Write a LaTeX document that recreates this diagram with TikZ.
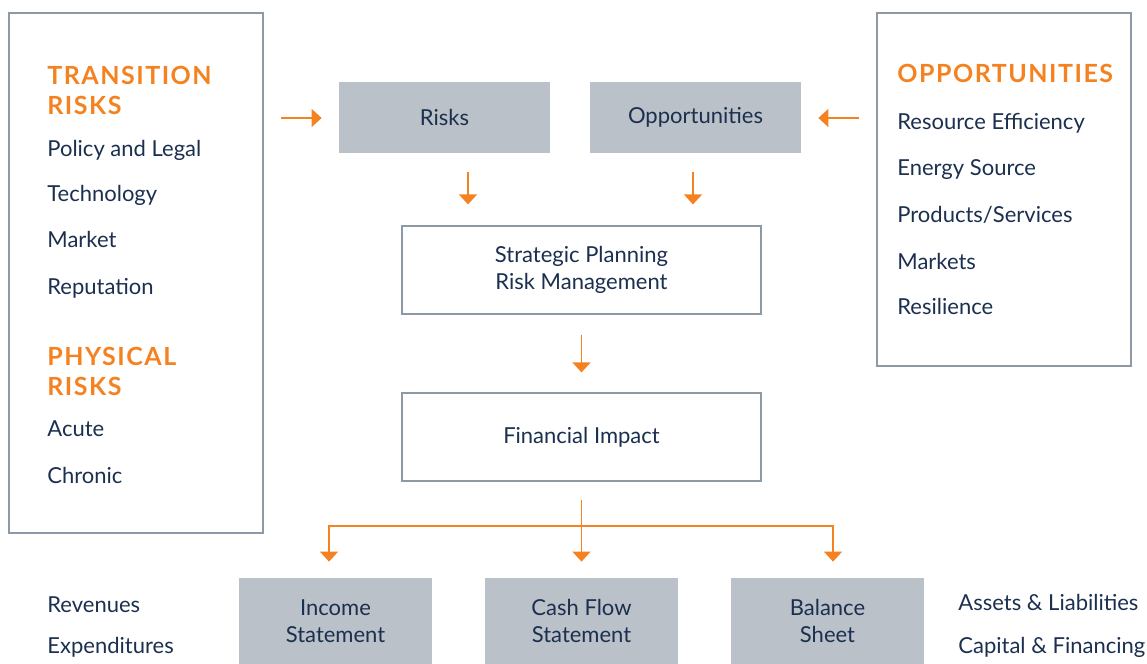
\documentclass[tikz,border=0pt]{standalone}
\usepackage{fontspec}
\setmainfont{Lato}
\newfontfamily\headfont{Lato}[LetterSpace=6]
\usetikzlibrary{arrows.meta,calc}

\definecolor{navy}{HTML}{1B2F4F}
\definecolor{tcfdorange}{HTML}{F58220}
\definecolor{boxgray}{HTML}{BAC1C8}
\definecolor{framegray}{HTML}{8D99A5}

\tikzset{
  graybox/.style={fill=boxgray, draw=none, text=navy, align=center, inner sep=0pt, font=\fontsize{11}{13.5}\selectfont},
  whitebox/.style={draw=framegray, line width=0.6pt, fill=white, text=navy, align=center, inner sep=0pt, font=\fontsize{11}{13.5}\selectfont},
  frame/.style={draw=framegray, line width=0.6pt, inner sep=0pt},
  item/.style={anchor=base west, inner sep=0pt, text=navy, font=\fontsize{11}{13}\selectfont},
  heading/.style={anchor=base west, inner sep=0pt, text=tcfdorange, font=\headfont\bfseries\fontsize{12.5}{15}\selectfont},
  flow/.style={draw=tcfdorange, line width=0.8pt},
  arr/.style={flow, -{Triangle[width=9pt,length=5pt]}}
}

\begin{document}
\begin{tikzpicture}[x=0.5pt, y=-0.5pt]
	%%%%% START %%%%%
	\useasboundingbox (0,0) rectangle (1147,664);

	% side frames
	\node[frame, minimum width=127pt, minimum height=260pt] (riskframe) at (136,273) {};
	\node[frame, minimum width=127pt, minimum height=176.5pt] (oppframe) at (1004,189.5) {};

	% transition and physical risks
	\node[heading] (transhead) at (47,84) {TRANSITION};
	\node[heading] (transhead2) at (47,114) {RISKS};
	\node[item] (policy) at (47,156) {Policy and Legal};
	\node[item] (tech) at (47,201) {Technology};
	\node[item] (market) at (47,247) {Market};
	\node[item] (reput) at (47,294) {Reputation};
	\node[heading] (physhead) at (47,365) {PHYSICAL};
	\node[heading] (physhead2) at (47,395) {RISKS};
	\node[item] (acute) at (47,436) {Acute};
	\node[item] (chronic) at (47,483) {Chronic};

	% opportunities
	\node[heading] (opphead) at (897,83) {OPPORTUNITIES};
	\node[item] (resource) at (897,129) {Resource Efficiency};
	\node[item] (energy) at (897,175) {Energy Source};
	\node[item] (products) at (897,222) {Products/Services};
	\node[item] (markets) at (897,269) {Markets};
	\node[item] (resil) at (897,314) {Resilience};

	% middle column
	\node[graybox, minimum width=105.5pt, minimum height=35.5pt] (risks) at (444.5,117.5) {Risks};
	\node[graybox, minimum width=105.5pt, minimum height=35.5pt] (opps) at (695.5,117.5) {Opportunities};
	\node[whitebox, minimum width=179.5pt, minimum height=44pt] (strategic) at (581.5,270) {Strategic Planning\\Risk Management};
	\node[whitebox, minimum width=179.5pt, minimum height=44pt] (financial) at (581.5,437) {Financial Impact};

	% statements
	\node[graybox, minimum width=96.5pt, minimum height=43pt] (income) at (335.5,621) {Income\\Statement};
	\node[graybox, minimum width=96.5pt, minimum height=43pt] (cashflow) at (581.5,621) {Cash Flow\\Statement};
	\node[graybox, minimum width=96.5pt, minimum height=43pt] (balance) at (827.5,621) {Balance\\Sheet};

	\node[item] (revenues) at (47,612) {Revenues};
	\node[item] (expend) at (47,653) {Expenditures};
	\node[item] (assets) at (958,610) {Assets \& Liabilities};
	\node[item] (capital) at (958,653) {Capital \& Financing};

	% connectors
	\coordinate (inL) at (281,118);
	\coordinate (inR) at (859,118);
	\coordinate (riskcol) at (468,0);
	\coordinate (oppcol) at (693,0);
	\coordinate (fork) at (581.5,526);

	\draw[arr] (inL) -- ([xshift=-8.5pt]risks.west |- inL);
	\draw[arr] (inR) -- ([xshift=8.5pt]opps.east |- inR);
	\draw[arr, shorten <=9.5pt, shorten >=10.5pt] (risks.south -| riskcol) -- (strategic.north -| riskcol);
	\draw[arr, shorten <=9.5pt, shorten >=10.5pt] (opps.south -| oppcol) -- (strategic.north -| oppcol);
	\draw[arr, shorten <=10pt, shorten >=10pt] (strategic) -- (financial);

	\draw[flow] ([yshift=-9pt]financial.south) -- (fork);
	\draw[arr, shorten >=8pt] (fork) -| ([xshift=-3.25pt]income.north);
	\draw[arr, shorten >=8pt] (fork) -- (cashflow.north);
	\draw[arr, shorten >=8pt] (fork) -| ([xshift=2.75pt]balance.north);
	%%%%% END %%%%%
\end{tikzpicture}
\end{document}
